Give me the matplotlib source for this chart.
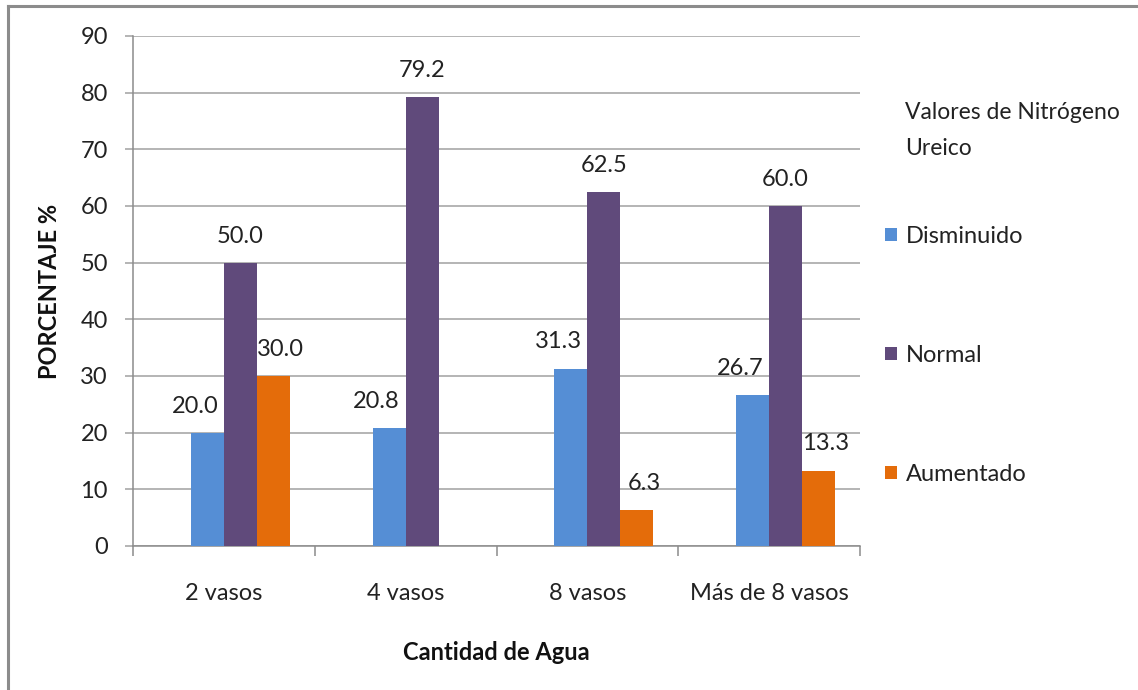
import matplotlib
matplotlib.use("Agg")
import matplotlib.pyplot as plt
from matplotlib.lines import Line2D
import numpy as np

categories = ["2 vasos", "4 vasos", "8 vasos", "Más de 8 vasos"]
series_names = ["Disminuido", "Normal", "Aumentado"]
disminuido = [20.0, 20.8, 31.3, 26.7]
normal = [50.0, 79.2, 62.5, 60.0]
aumentado = [30.0, None, 6.3, 13.3]
y_ticks = [0, 10, 20, 30, 40, 50, 60, 70, 80, 90]

colors = ["#558ED5", "#604A7B", "#E46C0A"]
label_dx = [-9, 0, 5]          # points; keeps neighbouring labels apart
FONT = "Lato"
FS = 17

plt.rcParams["font.family"] = [FONT, "DejaVu Sans"]

W, H = 1138, 690
fig = plt.figure(figsize=(W / 100, H / 100), dpi=100)
ax = fig.add_axes([133 / W, 1 - 546 / H, (860 - 133) / W, (546 - 36) / H])

x = np.arange(len(categories))
# four slots per group (first slot left empty), Excel-like gap of 150 %
w = 1 / (4 + 1.5)
offsets = [-0.5 * w, 0.5 * w, 1.5 * w]

handles = []
for vals, name, col, off, dx in zip([disminuido, normal, aumentado],
                                     series_names, colors, offsets, label_dx):
    xs = [xi + off for xi, v in zip(x, vals) if v is not None]
    vs = [v for v in vals if v is not None]
    bars = ax.bar(xs, vs, width=w, color=col, label=name, zorder=3)
    handles.append(bars)
    for xx, v in zip(xs, vs):
        ax.annotate(f"{v:.1f}", (xx, v), xytext=(dx, 14.5),
                    textcoords="offset points", ha="center", va="baseline",
                    fontsize=FS, color="#222222", zorder=4)

ax.set_xlim(-0.5, len(categories) - 0.5)
ax.set_ylim(0, 90)
ax.set_yticks(y_ticks)
ax.yaxis.grid(True, color="#A0A0A0", linewidth=1.1, zorder=0)
ax.set_axisbelow(True)

ax.set_xticks(x)
ax.set_xticklabels(categories, fontsize=FS, color="#222222")
ax.set_xticks(np.arange(-0.5, len(categories)), minor=True)
ax.tick_params(axis="x", which="major", length=0, pad=27)
ax.tick_params(axis="x", which="minor", length=7, width=1.1, color="#8C8C8C", direction="out")
ax.tick_params(axis="y", length=6, width=1.1, color="#A0A0A0", pad=12,
               labelsize=FS, labelcolor="#222222")

for s in ["top", "right"]:
    ax.spines[s].set_visible(False)
for s in ["left", "bottom"]:
    ax.spines[s].set_color("#8C8C8C")
    ax.spines[s].set_linewidth(1.1)

ax.set_ylabel("PORCENTAJE %", fontsize=FS, fontweight="bold", labelpad=14, color="#111111")
ax.set_xlabel("Cantidad de Agua", fontsize=FS, fontweight="bold", labelpad=26, color="#111111")

fig.text(905 / W, 1 - 102 / H, "Valores de Nitrógeno\nUreico", fontsize=FS - 0.5,
         ha="left", va="top", linespacing=1.9, color="#222222")
fig.legend(handles=handles, labels=series_names, loc="upper left",
           bbox_to_anchor=(885 / W, 1 - 226 / H), frameon=False, fontsize=FS,
           borderpad=0, borderaxespad=0,
           handlelength=0.5, handleheight=0.5, handletextpad=0.4,
           labelspacing=4.15, labelcolor="#222222")

# frame lines along the top and left edge of the canvas
fig.add_artist(Line2D([8 / W, 1], [1 - 6 / H, 1 - 6 / H], transform=fig.transFigure,
                      color="#8C8C8C", linewidth=2.2))
fig.add_artist(Line2D([8 / W, 8 / W], [0, 1 - 6 / H], transform=fig.transFigure,
                      color="#8C8C8C", linewidth=2.2))

fig.savefig("out.png", dpi=100, facecolor="white")
